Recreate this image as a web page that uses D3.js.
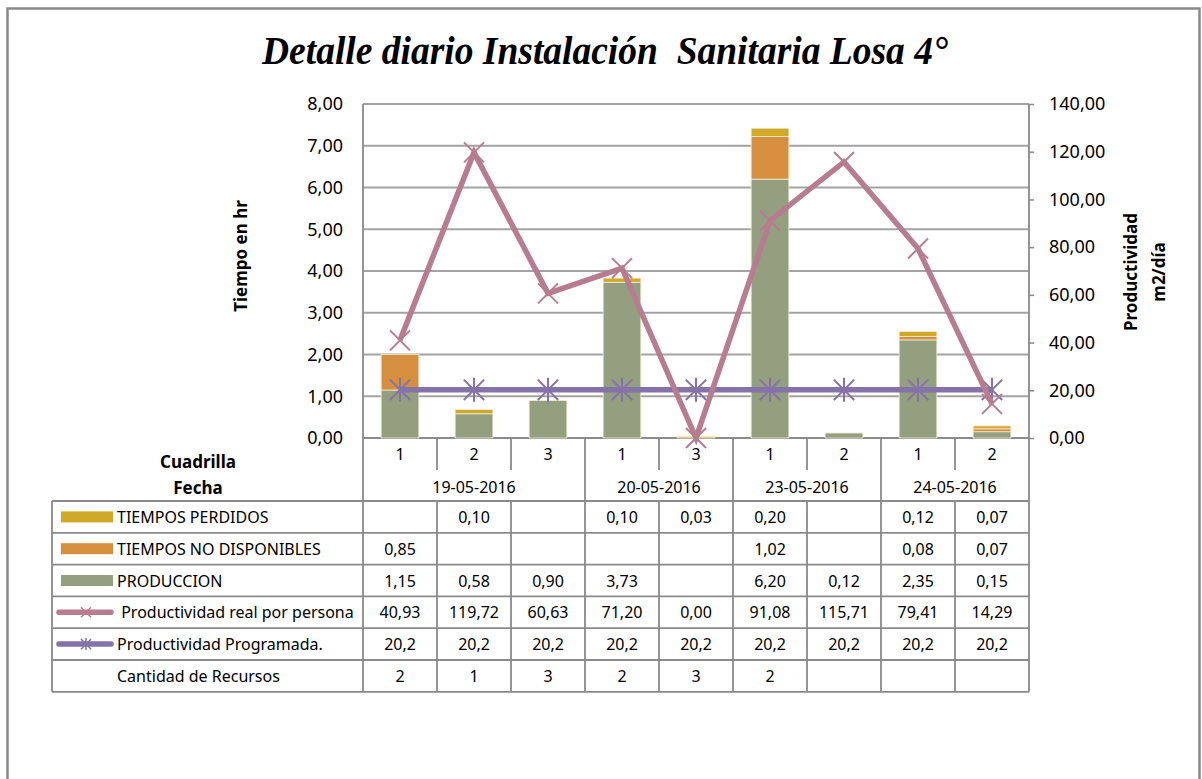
<html>
<head>
<meta charset="utf-8">
<script src="https://d3js.org/d3.v7.min.js"></script>
<style>
body{
    margin:0;
    background:#fff;
}
text{
    font-family:"Noto Sans", sans-serif;
    fill:#000;
    white-space:pre;
}
</style>
</head>
<body>
<div class="chart"></div>
<script>
// categories
const cuadrilla = ['1', '2', '3', '1', '3', '1', '2', '1', '2'];
const fechas = ['19-05-2016', '19-05-2016', '19-05-2016', '20-05-2016', '20-05-2016',
                '23-05-2016', '23-05-2016', '24-05-2016', '24-05-2016'];

// series (hours, stacked)
const tiemposPerdidos = [null, 0.10, null, 0.10, 0.03, 0.20, null, 0.12, 0.07];
const tiemposNoDisp = [0.85, null, null, null, null, 1.02, null, 0.08, 0.07];
const produccion = [1.15, 0.58, 0.90, 3.73, null, 6.20, 0.12, 2.35, 0.15];

// series (m2/dia)
const prodReal = [40.93, 119.72, 60.63, 71.20, 0.00, 91.08, 115.71, 79.41, 14.29];
const prodProgramada = [20.2, 20.2, 20.2, 20.2, 20.2, 20.2, 20.2, 20.2, 20.2];

const recursos = [2, 1, 3, 2, 3, 2, null, null, null];

const leftTicks = [0, 1, 2, 3, 4, 5, 6, 7, 8];
const rightTicks = [0, 20, 40, 60, 80, 100, 120, 140];

const W = 1202, H = 779;
const plot = {left: 363, right: 1029, top: 104, bottom: 438};

const colPerdidos = '#d0a928';
const colNoDisp = '#d68e3f';
const colProd = '#939f7f';
const colReal = '#b77c8f';
const colProg = '#8572a8';
const gridCol = '#a3a3a3';
const lineCol = '#8a8a8a';

const loc = d3.formatLocale({decimal: ',', thousands: '.', grouping: [3], currency: ['', '']});
const f2 = loc.format('.2f');
const f1 = loc.format('.1f');

const svg = d3.select('.chart').append('svg')
    .attr('width', W)
    .attr('height', H);

// outer frame
svg.append('rect')
    .attr('x', 7.5).attr('y', 8.5)
    .attr('width', 1192).attr('height', 820)
    .attr('fill', 'none')
    .attr('stroke', lineCol)
    .attr('stroke-width', 2.5);

svg.append('text')
    .attr('x', 605).attr('y', 64)
    .attr('text-anchor', 'middle')
    .attr('textLength', 686)
    .attr('lengthAdjust', 'spacingAndGlyphs')
    .style('font-family', '"Liberation Serif", serif')
    .style('font-weight', 'bold')
    .style('font-style', 'italic')
    .style('font-size', '39px')
    .text('Detalle diario Instalación  Sanitaria Losa 4°');

const idx = d3.range(cuadrilla.length);
const x = d3.scaleBand().domain(idx).range([plot.left, plot.right]).padding(0);
const barW = x.bandwidth() * 0.51;
const cx = i => x(i) + x.bandwidth() / 2;

const yL = d3.scaleLinear().domain([0, 8]).range([plot.bottom, plot.top]);
const yR = d3.scaleLinear().domain([0, 140]).range([plot.bottom, plot.top]);

// gridlines
svg.append('g')
    .selectAll('line')
    .data(leftTicks)
    .enter()
    .append('line')
        .attr('x1', plot.left).attr('x2', plot.right)
        .attr('y1', d => yL(d)).attr('y2', d => yL(d))
        .attr('stroke', d => d === 0 ? lineCol : gridCol)
        .attr('stroke-width', 1.8);

// left axis
const axL = svg.append('g')
    .attr('transform', `translate(${plot.left},0)`)
    .call(d3.axisLeft(yL).tickValues(leftTicks).tickSize(0).tickPadding(20).tickFormat(f2));
axL.select('.domain').remove();
axL.selectAll('text')
    .style('font-size', '18px')
    .style('font-family', '"Noto Sans", sans-serif');

// right axis
const axR = svg.append('g')
    .attr('transform', `translate(${plot.right},0)`)
    .call(d3.axisRight(yR).tickValues(rightTicks).tickSize(5).tickPadding(15).tickFormat(f2));
axR.select('.domain').remove();
axR.selectAll('line').attr('stroke', lineCol).attr('stroke-width', 1.5);
axR.selectAll('text')
    .style('font-size', '18px')
    .style('font-family', '"Noto Sans", sans-serif');

// axis titles
svg.append('text')
    .attr('transform', 'translate(240,256) rotate(-90)')
    .attr('text-anchor', 'middle')
    .attr('dominant-baseline', 'central')
    .style('font-weight', 'bold')
    .style('font-size', '17px')
    .text('Tiempo en hr');

svg.append('text')
    .attr('transform', 'translate(1130,272) rotate(-90)')
    .attr('text-anchor', 'middle')
    .attr('dominant-baseline', 'central')
    .style('font-weight', 'bold')
    .style('font-size', '17px')
    .text('Productividad');
svg.append('text')
    .attr('transform', 'translate(1158,272) rotate(-90)')
    .attr('text-anchor', 'middle')
    .attr('dominant-baseline', 'central')
    .style('font-weight', 'bold')
    .style('font-size', '17px')
    .text('m2/día');

// stacked bars
const barData = idx.map(i => ({
    prod: produccion[i] || 0,
    nodisp: tiemposNoDisp[i] || 0,
    perd: tiemposPerdidos[i] || 0
}));
const stack = d3.stack().keys(['prod', 'nodisp', 'perd'])(barData);
const barColor = {prod: colProd, nodisp: colNoDisp, perd: colPerdidos};

svg.append('g')
    .selectAll('g')
    .data(stack)
    .enter()
    .append('g')
        .attr('fill', d => barColor[d.key])
    .selectAll('rect')
    .data(d => d.map((s, i) => ({s, i})).filter(o => o.s[1] > o.s[0]))
    .enter()
    .append('rect')
        .attr('x', o => cx(o.i) - barW / 2)
        .attr('width', barW)
        .attr('y', o => yL(o.s[1]))
        .attr('height', o => yL(o.s[0]) - yL(o.s[1]))
        .attr('stroke', '#f1ecd8')
        .attr('stroke-width', 0.8);

// markers
const xMark = r => `M${-r},${-r}L${r},${r}M${-r},${r}L${r},${-r}`;
const starMark = r => `${xMark(r * 0.85)}M0,${-r}L0,${r}`;

const line = d3.line()
    .x((d, i) => cx(i))
    .y(d => yR(d));

// programada
svg.append('path')
    .attr('d', line(prodProgramada))
    .attr('fill', 'none')
    .attr('stroke', colProg)
    .attr('stroke-width', 5.5);
svg.append('g')
    .selectAll('path')
    .data(prodProgramada)
    .enter()
    .append('path')
        .attr('transform', (d, i) => `translate(${cx(i)},${yR(d)})`)
        .attr('d', starMark(12))
        .attr('stroke', colProg)
        .attr('stroke-width', 2);

// real
svg.append('path')
    .attr('d', line(prodReal))
    .attr('fill', 'none')
    .attr('stroke', colReal)
    .attr('stroke-width', 5.5)
    .attr('stroke-linejoin', 'miter');
svg.append('g')
    .selectAll('path')
    .data(prodReal)
    .enter()
    .append('path')
        .attr('transform', (d, i) => `translate(${cx(i)},${yR(d)})`)
        .attr('d', xMark(10))
        .attr('stroke', colReal)
        .attr('stroke-width', 2);

// category + date rows
const catRowMid = 454;
const dateRowMid = 487;
const tableTop = 501;
const rowH = 31.8;
const tableLeft = 52;

const grid = svg.append('g')
    .attr('stroke', lineCol)
    .attr('stroke-width', 1.8);

svg.append('g')
    .selectAll('text')
    .data(cuadrilla)
    .enter()
    .append('text')
        .attr('x', (d, i) => cx(i))
        .attr('y', catRowMid)
        .attr('text-anchor', 'middle')
        .attr('dominant-baseline', 'central')
        .style('font-size', '16px')
        .text(d => d);

// date groups
const groups = [];
fechas.forEach((f, i) => {
    const last = groups[groups.length - 1];
    if (last && last.fecha === f) { last.end = i; }
    else { groups.push({fecha: f, start: i, end: i}); }
});

svg.append('g')
    .selectAll('text')
    .data(groups)
    .enter()
    .append('text')
        .attr('x', g => (x(g.start) + x(g.end) + x.bandwidth()) / 2)
        .attr('y', dateRowMid)
        .attr('text-anchor', 'middle')
        .attr('dominant-baseline', 'central')
        .style('font-size', '16px')
        .text(g => g.fecha);

// separators inside the category row
idx.slice(1).forEach(i => {
    const isGroupEdge = fechas[i] !== fechas[i - 1];
    grid.append('line')
        .attr('x1', x(i)).attr('x2', x(i))
        .attr('y1', plot.bottom)
        .attr('y2', isGroupEdge ? tableTop : 470);
});

svg.append('text')
    .attr('x', 198).attr('y', 461)
    .attr('text-anchor', 'middle')
    .attr('dominant-baseline', 'central')
    .style('font-weight', 'bold')
    .style('font-size', '17px')
    .text('Cuadrilla');
svg.append('text')
    .attr('x', 198).attr('y', 487)
    .attr('text-anchor', 'middle')
    .attr('dominant-baseline', 'central')
    .style('font-weight', 'bold')
    .style('font-size', '17px')
    .text('Fecha');

// data table
const rows = [
    {label: 'TIEMPOS PERDIDOS', values: tiemposPerdidos, fmt: f2, key: 'rect', color: colPerdidos},
    {label: 'TIEMPOS NO DISPONIBLES', values: tiemposNoDisp, fmt: f2, key: 'rect', color: colNoDisp},
    {label: 'PRODUCCION', values: produccion, fmt: f2, key: 'rect', color: colProd},
    {label: ' Productividad real por persona', values: prodReal, fmt: f2, key: 'x', color: colReal},
    {label: 'Productividad Programada.', values: prodProgramada, fmt: f1, key: 'star', color: colProg},
    {label: 'Cantidad de Recursos', values: recursos, fmt: d3.format('d'), key: 'none'}
];
const tableBottom = tableTop + rowH * rows.length;

// horizontal lines
d3.range(rows.length + 1).forEach(r => {
    grid.append('line')
        .attr('x1', tableLeft).attr('x2', plot.right)
        .attr('y1', tableTop + r * rowH).attr('y2', tableTop + r * rowH);
});
// vertical lines
grid.append('line')
    .attr('x1', tableLeft).attr('x2', tableLeft)
    .attr('y1', tableTop).attr('y2', tableBottom);
grid.append('line')
    .attr('x1', plot.left).attr('x2', plot.left)
    .attr('y1', plot.top).attr('y2', tableBottom);
grid.append('line')
    .attr('x1', plot.right).attr('x2', plot.right)
    .attr('y1', plot.top).attr('y2', tableBottom);
idx.slice(1).forEach(i => {
    grid.append('line')
        .attr('x1', x(i)).attr('x2', x(i))
        .attr('y1', tableTop).attr('y2', tableBottom);
});

const rowG = svg.append('g')
    .selectAll('g')
    .data(rows)
    .enter()
    .append('g')
        .attr('transform', (d, r) => `translate(0,${tableTop + r * rowH + rowH / 2})`);

rowG.append('text')
    .attr('x', 117)
    .attr('dominant-baseline', 'central')
    .style('font-size', '16px')
    .text(d => d.label);

rowG.filter(d => d.key === 'rect')
    .append('rect')
        .attr('x', 61).attr('y', -5.5)
        .attr('width', 52).attr('height', 11)
        .attr('fill', d => d.color);

const legLines = rowG.filter(d => d.key === 'x' || d.key === 'star');
legLines.append('line')
    .attr('x1', 59).attr('x2', 111)
    .attr('stroke', d => d.color)
    .attr('stroke-width', 5.5)
    .attr('stroke-linecap', 'round');
legLines.append('path')
    .attr('transform', 'translate(86,0)')
    .attr('d', d => d.key === 'x' ? xMark(5) : starMark(6))
    .attr('stroke', d => d.color)
    .attr('stroke-width', 1.5);

rowG.selectAll('text.val')
    .data(d => d.values.map(v => v == null ? '' : d.fmt(v)))
    .enter()
    .append('text')
        .attr('class', 'val')
        .attr('x', (d, i) => cx(i))
        .attr('text-anchor', 'middle')
        .attr('dominant-baseline', 'central')
        .style('font-size', '16px')
        .text(d => d);
</script>
</body>
</html>
